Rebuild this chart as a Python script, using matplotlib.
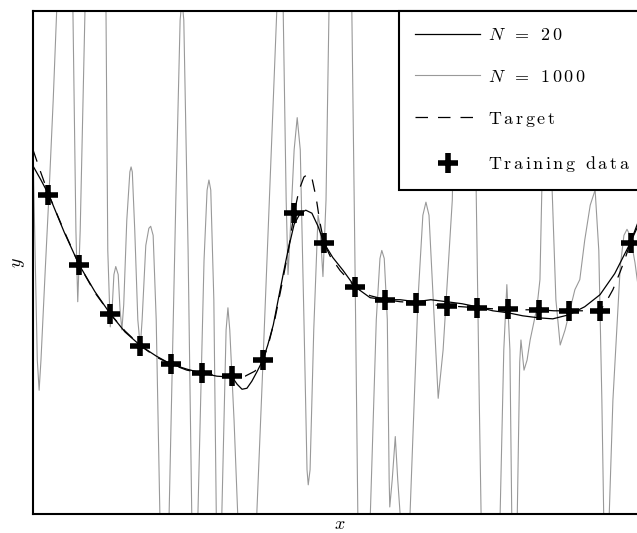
import matplotlib
matplotlib.use("Agg")
import matplotlib.pyplot as plt

plt.rcParams["font.family"] = "serif"
plt.rcParams["font.serif"] = ["cmr10"]
plt.rcParams["mathtext.fontset"] = "cm"
plt.rcParams["axes.unicode_minus"] = False

# training inputs / targets
x_train = [0.025, 0.075, 0.125, 0.175, 0.225, 0.275, 0.325, 0.375, 0.425, 0.475,
           0.525, 0.575, 0.625, 0.675, 0.725, 0.775, 0.825, 0.875, 0.925, 0.975]
y_train = [0.67, -0.02, -0.51, -0.83, -1.01, -1.10, -1.13, -0.97, 0.49, 0.19,
           -0.24, -0.37, -0.40, -0.43, -0.45, -0.46, -0.47, -0.48, -0.48, 0.19]

# target function
x_target = [0.000, 0.013, 0.026, 0.051, 0.075, 0.101, 0.126, 0.150, 0.176, 0.201,
            0.225, 0.251, 0.276, 0.300, 0.325, 0.346, 0.362, 0.375, 0.383, 0.395,
            0.406, 0.416, 0.426, 0.434, 0.442, 0.449, 0.455, 0.462, 0.468, 0.475,
            0.485, 0.501, 0.525, 0.550, 0.576, 0.599, 0.625, 0.649, 0.675, 0.700,
            0.724, 0.750, 0.775, 0.799, 0.825, 0.850, 0.874, 0.900, 0.925, 0.936,
            0.946, 0.958, 0.966, 0.974, 0.987, 1.000]
y_target = [1.12, 0.89, 0.67, 0.31, -0.02, -0.30, -0.51, -0.68, -0.83, -0.94,
            -1.01, -1.07, -1.10, -1.12, -1.13, -1.13, -1.08, -0.97, -0.84, -0.55,
            -0.22, 0.10, 0.49, 0.72, 0.85, 0.88, 0.84, 0.64, 0.40, 0.19,
            0.06, -0.08, -0.24, -0.33, -0.37, -0.39, -0.40, -0.42, -0.43, -0.44,
            -0.45, -0.46, -0.46, -0.47, -0.47, -0.48, -0.48, -0.48, -0.48, -0.38,
            -0.27, -0.09, 0.04, 0.19, 0.40, 0.62]

# fit with N = 20 features
x_n20 = [0.000, 0.013, 0.026, 0.051, 0.075, 0.101, 0.126, 0.150, 0.176, 0.201,
         0.225, 0.251, 0.276, 0.300, 0.325, 0.333, 0.341, 0.349, 0.357, 0.365,
         0.375, 0.383, 0.392, 0.400, 0.408, 0.416, 0.426, 0.436, 0.445, 0.455,
         0.465, 0.475, 0.489, 0.506, 0.525, 0.550, 0.576, 0.599, 0.625, 0.649,
         0.675, 0.700, 0.724, 0.750, 0.775, 0.799, 0.825, 0.848, 0.874, 0.900,
         0.925, 0.949, 0.974, 1.000]
y_n20 = [0.96, 0.82, 0.67, 0.30, -0.02, -0.29, -0.51, -0.69, -0.83, -0.93,
         -1.01, -1.06, -1.10, -1.13, -1.14, -1.21, -1.26, -1.25, -1.18, -1.09,
         -0.97, -0.82, -0.62, -0.37, -0.12, 0.12, 0.38, 0.49, 0.52, 0.49,
         0.36, 0.19, 0.05, -0.08, -0.24, -0.35, -0.37, -0.37, -0.39, -0.37,
         -0.39, -0.41, -0.44, -0.48, -0.50, -0.53, -0.55, -0.56, -0.52, -0.44,
         -0.32, -0.11, 0.19, 0.54]

# fit with N = 1000 features
x_n1000 = [0.000, 0.005, 0.007, 0.010, 0.013, 0.020, 0.026, 0.033, 0.039, 0.049,
           0.057, 0.065, 0.070, 0.073, 0.077, 0.085, 0.101, 0.119, 0.122, 0.126,
           0.129, 0.132, 0.135, 0.139, 0.142, 0.145, 0.148, 0.153, 0.158, 0.160,
           0.162, 0.166, 0.171, 0.175, 0.178, 0.184, 0.189, 0.192, 0.196, 0.201,
           0.207, 0.214, 0.215, 0.222, 0.233, 0.240, 0.243, 0.246, 0.253, 0.259,
           0.264, 0.269, 0.279, 0.284, 0.287, 0.290, 0.295, 0.299, 0.303, 0.308,
           0.315, 0.318, 0.321, 0.328, 0.334, 0.349, 0.365, 0.374, 0.382, 0.390,
           0.398, 0.403, 0.408, 0.413, 0.416, 0.419, 0.426, 0.431, 0.436, 0.442,
           0.447, 0.449, 0.452, 0.458, 0.465, 0.468, 0.473, 0.478, 0.483, 0.501,
           0.520, 0.525, 0.530, 0.540, 0.550, 0.560, 0.566, 0.569, 0.573, 0.578,
           0.581, 0.582, 0.586, 0.591, 0.595, 0.599, 0.607, 0.615, 0.628, 0.636,
           0.641, 0.646, 0.653, 0.661, 0.669, 0.679, 0.684, 0.690, 0.706, 0.719,
           0.723, 0.728, 0.731, 0.746, 0.762, 0.768, 0.773, 0.778, 0.781, 0.785,
           0.790, 0.794, 0.796, 0.801, 0.806, 0.811, 0.822, 0.827, 0.830, 0.838,
           0.847, 0.853, 0.860, 0.868, 0.884, 0.892, 0.900, 0.909, 0.917, 0.923,
           0.928, 0.931, 0.935, 0.940, 0.946, 0.958, 0.964, 0.969, 0.974, 0.982,
           0.990, 1.000]
y_n1000 = [1.12, -0.37, -0.97, -1.27, -0.97, -0.07, 0.67, 1.62, 2.56, 4.10,
           4.10, 2.56, 0.32, -0.39, 0.32, 2.56, 4.60, 2.56, 0.12, -0.64,
           -0.47, -0.12, -0.04, -0.12, -0.47, -0.67, -0.42, 0.42, 0.90, 0.95,
           0.90, 0.32, -0.57, -0.84, -0.57, 0.17, 0.34, 0.36, 0.27, -0.57,
           -2.51, -3.85, -3.85, -2.51, 0.62, 2.41, 2.61, 2.41, 0.12, -2.51,
           -3.35, -2.51, 0.02, 0.72, 0.82, 0.72, -0.37, -2.51, -3.06, -2.51,
           -0.67, -0.45, -0.67, -1.57, -2.51, -4.35, -2.51, -1.17, 0.07, 1.32,
           2.56, 3.21, 2.56, 0.62, -0.12, 0.22, 1.12, 1.44, 1.12, -0.57,
           -2.06, -2.21, -2.06, -0.67, 0.47, 0.37, -0.14, 0.62, 2.56, 5.59,
           2.56, 0.12, -2.56, -3.85, -2.56, -0.57, 0.04, 0.12, 0.04, -0.57,
           -2.16, -2.43, -2.16, -1.73, -2.16, -2.51, -3.35, -2.51, -0.37, 0.47,
           0.60, 0.47, -0.37, -1.35, -0.87, 0.12, 0.62, 2.56, 5.59, 2.56,
           0.70, -1.37, -2.51, -3.85, -2.51, -0.87, -0.22, -0.87, -2.51, -2.96,
           -2.51, -0.99, -0.77, -1.07, -0.97, -0.77, -0.45, -0.17, 0.70, 1.62,
           0.70, -0.37, -0.82, -0.67, -0.27, -0.17, 0.22, 0.57, 0.72, 0.12,
           -1.37, -2.51, -2.96, -2.51, -1.37, -0.04, 0.27, 0.33, 0.27, 0.00,
           -0.37, -0.77]


def spaced(text):
    """Render text upright with a little extra letter spacing."""
    parts = [r"\ " if c == " " else r"\mathrm{%s}" % c for c in text]
    return "$" + r"\,".join(parts) + "$"


fig = plt.figure(figsize=(6.37, 5.33), dpi=100)
ax = fig.add_axes([33 / 637, 19 / 533, 613 / 637, 503 / 533])

ax.plot(x_n20, y_n20, color="black", lw=0.9, zorder=3,
        label=r"$N\;\;=\;\;\mathrm{2}\,\mathrm{0}$")
ax.plot(x_n1000, y_n1000, color="0.6", lw=0.8, zorder=2,
        label=r"$N\;\;=\;\;\mathrm{1}\,\mathrm{0}\,\mathrm{0}\,\mathrm{0}$")
ax.plot(x_target, y_target, color="black", lw=0.9, linestyle=(0, (10, 8)),
        zorder=3, label=spaced("Target"))
ax.plot(x_train, y_train, linestyle="none", marker="+", color="black",
        markersize=15, markeredgewidth=4, zorder=4, label=spaced("Training data"))

ax.set_xlim(0, 1)
ax.set_ylim(-2.5, 2.5)
ax.set_xticks([])
ax.set_yticks([])
for sp in ax.spines.values():
    sp.set_linewidth(1.5)

ax.set_xlabel(r"$x$", fontsize=13, labelpad=2)
ax.set_ylabel(r"$y$", fontsize=13, labelpad=4)

leg = ax.legend(loc="upper right", borderaxespad=0, fancybox=False,
                edgecolor="black", framealpha=1, fontsize=13,
                handlelength=3.6, handletextpad=0.4, borderpad=0.9,
                labelspacing=1.4)
leg.get_frame().set_linewidth(1.5)

fig.savefig("out.png", dpi=100)
